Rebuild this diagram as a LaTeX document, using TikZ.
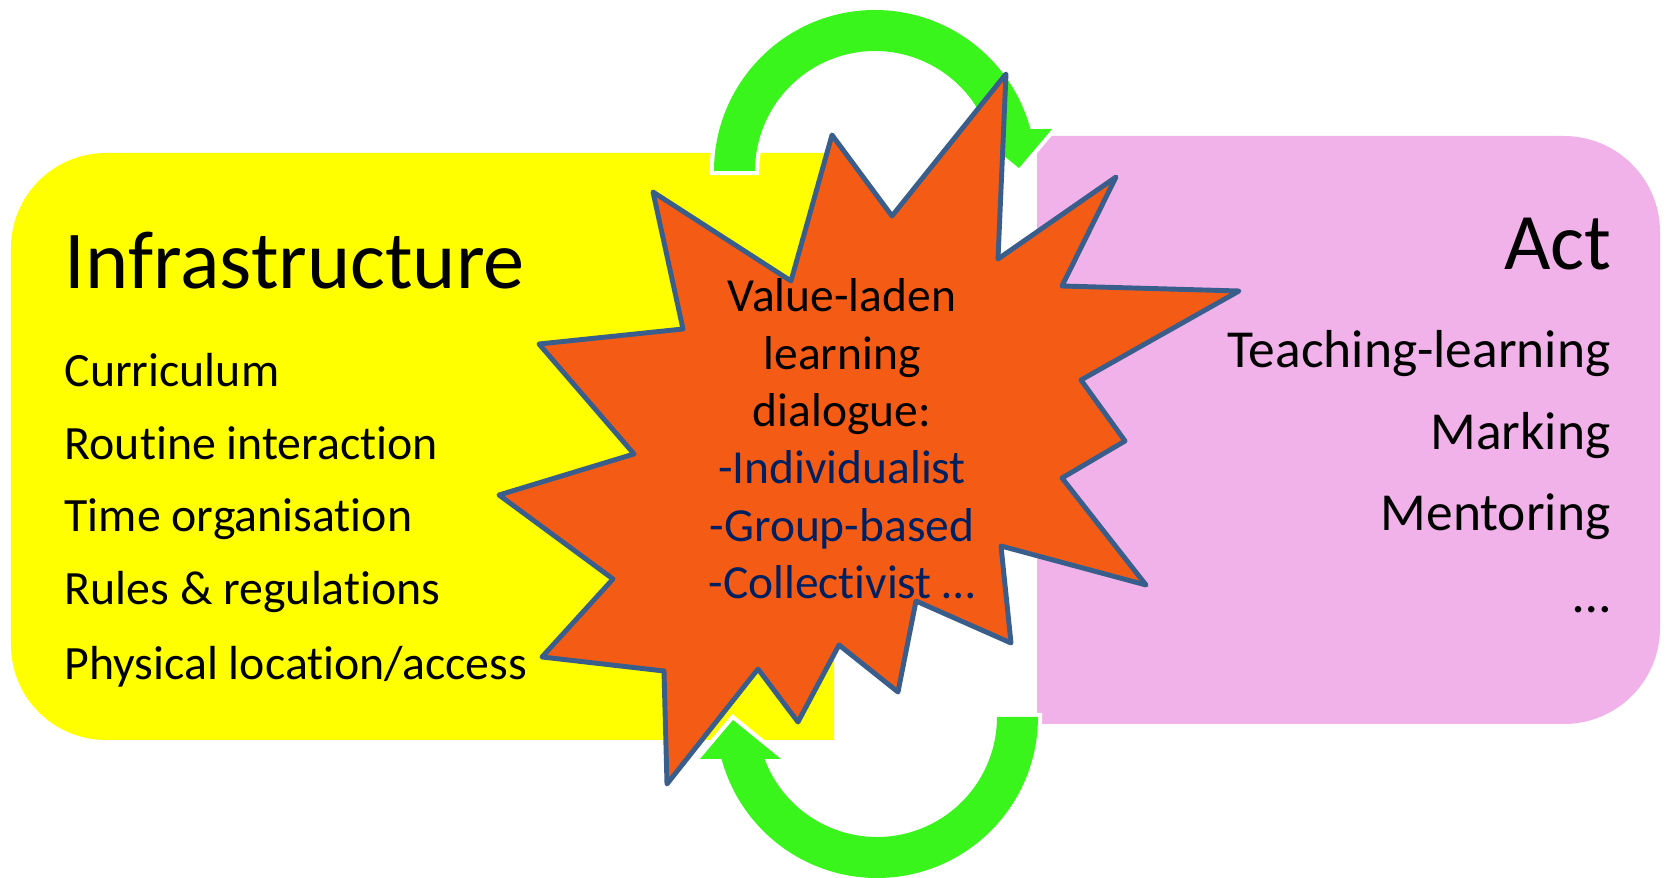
\documentclass[tikz,border=0pt]{standalone}
\usepackage{fontspec}
\setmainfont{Carlito}[Ligatures=NoCommon]
\definecolor{infrayellow}{RGB}{255,255,0}
\definecolor{actpink}{RGB}{240,178,232}
\definecolor{loopgreen}{RGB}{58,245,28}
\definecolor{burstorange}{RGB}{244,92,22}
\definecolor{burstline}{RGB}{58,94,140}
\definecolor{valuenavy}{RGB}{0,32,96}
\begin{document}
\begin{tikzpicture}[x=0.01cm, y=0.01cm,
	loop/.style={preaction={draw=white, line width=2.4pt}, fill=loopgreen},
	burst/.style={fill=burstorange, draw=burstline, line width=1.4pt, line join=round},
	heading/.style={inner sep=0pt, font=\fontsize{23.4}{28}\selectfont},
	infraitem/.style={inner sep=0pt, anchor=base west, font=\fontsize{13.6}{16}\selectfont},
	actitem/.style={inner sep=0pt, anchor=base east, font=\fontsize{15.2}{18}\selectfont},
	value/.style={inner sep=0pt, anchor=base, font=\fontsize{13.5}{16}\selectfont}]
	\useasboundingbox (0,0) rectangle (1665,878);
	% fill first
	\fill[infrayellow] (834,138) -- (106,138) arc[start angle=270, end angle=180, radius=95] -- (11,630) arc[start angle=180, end angle=90, radius=95] -- (834,725) -- cycle;
	\fill[actpink] (1037,154) -- (1564,154) arc[start angle=-90, end angle=0, radius=96] -- (1660,646) arc[start angle=0, end angle=90, radius=96] -- (1037,742) -- cycle;
	% Upper loop, under the burst
	\path[loop] (714,707) arc[start angle=180, end angle=15.12, radius=161] -- (1052,749) -- (1019,710) -- (971,749) -- (987.4,749) arc[start angle=20.49, end angle=180, radius=120] -- cycle;
	% Burst
	\draw[burst] (832,743) -- (892,662) -- (1006,804) -- (998,619) -- (1116,701) -- (1062,592) -- (1239,587) -- (1081,498) -- (1125,437) -- (1062,400) -- (1146,293) -- (1001,332) -- (1011,235) -- (916,277) -- (898,186) -- (839,233) -- (798,156) -- (758,209) -- (667,94) -- (664,207) -- (542,221) -- (613,299) -- (499,383) -- (634,424) -- (539,534) -- (683,549) -- (653,686) -- (791,597) -- cycle;
	% Lower loop, over the burst
	\path[loop] (1038,161) arc[start angle=0, end angle=-164.88, radius=161] -- (700,119) -- (733,158) -- (781,119) -- (764.6,119) arc[start angle=-159.51, end angle=0, radius=120] -- cycle;
	% Infrastructure
	\node[heading, anchor=base west] at (64,589) (infra) {Infrastructure};
	\node[infraitem] at (64,491) (curr) {Curriculum};
	\node[infraitem] at (64,418) (routine) {Routine interaction};
	\node[infraitem] at (64,346) (time) {Time organisation};
	\node[infraitem] at (64,273) (rules) {Rules \& regulations};
	\node[infraitem] at (64,198) (phys) {Physical location/access};
	% Act
	\node[heading, anchor=base east, font=\fontsize{22.8}{27}\selectfont] at (1612,608) (act) {Act};
	\node[actitem] at (1611,510) (teach) {Teaching-learning};
	\node[actitem] at (1611,428) (mark) {Marking};
	\node[actitem] at (1611,347) (mentor) {Mentoring};
	\node[actitem] at (1611,265) (actmore) {…};
	% Value-laden dialogue
	\node[value] at (842,566) (val) {Value-laden};
	\node[value] at (842,508) (learn) {learning};
	\node[value] at (842,451) (dial) {dialogue:};
	\node[value, text=valuenavy] at (842,394) (indiv) {-Individualist};
	\node[value, text=valuenavy] at (842,336) (group) {-Group-based};
	\node[value, text=valuenavy] at (842,279) (coll) {-Collectivist …};
\end{tikzpicture}
\end{document}
